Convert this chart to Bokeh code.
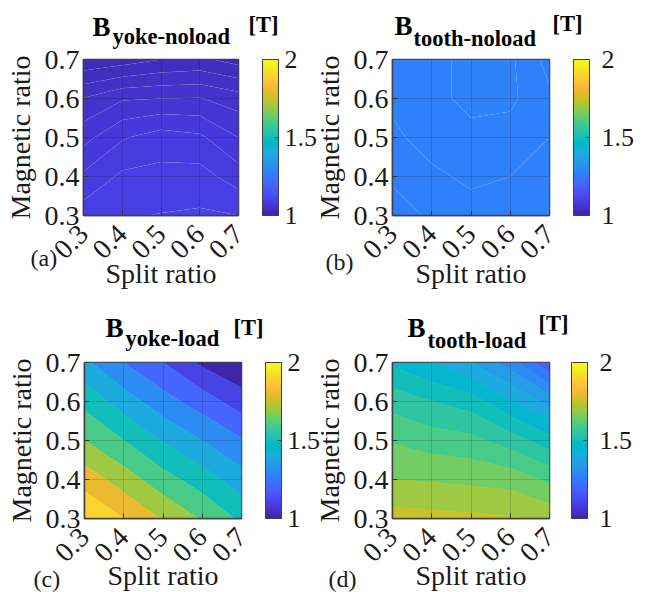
import math
import numpy as np
from bokeh.plotting import figure
from bokeh.models import Range1d, FixedTicker, ColorBar, LinearColorMapper, Label
from bokeh.layouts import column, row
from bokeh.embed import file_html
from bokeh.resources import INLINE

# ---------------- data ----------------
split_ratio = [0.3, 0.4, 0.5, 0.6, 0.7]
magnetic_ratio = [0.3, 0.4, 0.5, 0.6, 0.7]
tick_labels = ["0.3", "0.4", "0.5", "0.6", "0.7"]
cbar_ticks = [1, 1.5, 2]
cbar_labels = ["1", "1.5", "2"]

# rows: magnetic ratio 0.3 -> 0.7 ; columns: split ratio 0.3 -> 0.7   [T]
b_yoke_noload = [
    [1.095, 1.099, 1.1005, 1.1015, 1.100],
    [1.082, 1.092, 1.093, 1.094, 1.085],
    [1.0665, 1.079, 1.085, 1.082, 1.070],
    [1.0505, 1.059, 1.060, 1.0605, 1.055],
    [1.022, 1.025, 1.030, 1.032, 1.026],
]
b_tooth_noload = [
    [1.262, 1.266, 1.268, 1.268, 1.268],
    [1.266, 1.269, 1.271, 1.270, 1.269],
    [1.269, 1.272, 1.274, 1.273, 1.270],
    [1.271, 1.274, 1.276, 1.276, 1.271],
    [1.270, 1.274, 1.276, 1.276, 1.268],
]
b_yoke_load = [
    [1.99, 1.90, 1.79, 1.69, 1.58],
    [1.86, 1.75, 1.64, 1.55, 1.44],
    [1.70, 1.60, 1.49, 1.40, 1.31],
    [1.57, 1.45, 1.34, 1.25, 1.15],
    [1.42, 1.30, 1.20, 1.08, 1.005],
]
b_tooth_load = [
    [1.77, 1.765, 1.76, 1.755, 1.735],
    [1.70, 1.695, 1.688, 1.68, 1.64],
    [1.645, 1.625, 1.615, 1.575, 1.52],
    [1.58, 1.55, 1.525, 1.455, 1.38],
    [1.49, 1.45, 1.40, 1.325, 1.20],
]

levels_yoke_noload = [1.02, 1.03, 1.04, 1.05, 1.06, 1.07, 1.08, 1.09, 1.10, 1.11]
levels_tooth_noload = [1.26, 1.265, 1.27, 1.275, 1.28]
levels_yoke_load = [1.0, 1.1, 1.2, 1.3, 1.4, 1.5, 1.6, 1.7, 1.8, 1.9, 2.0]
levels_tooth_load = [1.2, 1.25, 1.3, 1.35, 1.4, 1.45, 1.5, 1.55, 1.6, 1.65, 1.7, 1.75, 1.8]

panel_subscripts = ["yoke-noload", "tooth-noload", "yoke-load", "tooth-load"]
panel_letters = ["(a)", "(b)", "(c)", "(d)"]

# ---------------- parula colormap ----------------
PARULA64 = [
    (0.2422, 0.1504, 0.6603), (0.2504, 0.1650, 0.7076), (0.2578, 0.1818, 0.7511), (0.2647, 0.1978, 0.7952),
    (0.2706, 0.2147, 0.8364), (0.2751, 0.2342, 0.8710), (0.2783, 0.2559, 0.8991), (0.2803, 0.2782, 0.9221),
    (0.2813, 0.3006, 0.9414), (0.2810, 0.3228, 0.9579), (0.2795, 0.3447, 0.9717), (0.2760, 0.3667, 0.9829),
    (0.2699, 0.3892, 0.9906), (0.2602, 0.4123, 0.9952), (0.2440, 0.4358, 0.9988), (0.2206, 0.4603, 0.9973),
    (0.1963, 0.4847, 0.9892), (0.1834, 0.5074, 0.9798), (0.1786, 0.5289, 0.9682), (0.1764, 0.5499, 0.9520),
    (0.1687, 0.5703, 0.9359), (0.1540, 0.5902, 0.9218), (0.1460, 0.6091, 0.9079), (0.1380, 0.6276, 0.8973),
    (0.1248, 0.6459, 0.8883), (0.1113, 0.6635, 0.8763), (0.0952, 0.6798, 0.8598), (0.0689, 0.6948, 0.8394),
    (0.0297, 0.7082, 0.8163), (0.0036, 0.7203, 0.7917), (0.0067, 0.7312, 0.7660), (0.0433, 0.7411, 0.7394),
    (0.0964, 0.7500, 0.7120), (0.1408, 0.7584, 0.6842), (0.1717, 0.7670, 0.6554), (0.1938, 0.7758, 0.6251),
    (0.2161, 0.7843, 0.5923), (0.2470, 0.7918, 0.5567), (0.2906, 0.7973, 0.5188), (0.3406, 0.8008, 0.4789),
    (0.3909, 0.8029, 0.4354), (0.4456, 0.8024, 0.3909), (0.5044, 0.7993, 0.3480), (0.5616, 0.7942, 0.3045),
    (0.6174, 0.7876, 0.2612), (0.6720, 0.7793, 0.2227), (0.7242, 0.7698, 0.1910), (0.7738, 0.7598, 0.1646),
    (0.8203, 0.7498, 0.1535), (0.8634, 0.7406, 0.1596), (0.9035, 0.7330, 0.1774), (0.9393, 0.7288, 0.2100),
    (0.9728, 0.7298, 0.2394), (0.9956, 0.7434, 0.2371), (0.9970, 0.7659, 0.2199), (0.9952, 0.7893, 0.2028),
    (0.9892, 0.8136, 0.1885), (0.9786, 0.8386, 0.1766), (0.9676, 0.8639, 0.1643), (0.9610, 0.8890, 0.1537),
    (0.9597, 0.9135, 0.1423), (0.9628, 0.9373, 0.1265), (0.9691, 0.9606, 0.1064), (0.9769, 0.9839, 0.0805),
]
_p = np.array(PARULA64)
_src = np.linspace(0, 1, len(_p))


def parula(t):
    t = min(max(t, 0.0), 1.0)
    r, g, b = (np.interp(t, _src, _p[:, k]) for k in range(3))
    return "#%02x%02x%02x" % (int(round(r * 255)), int(round(g * 255)), int(round(b * 255)))


PALETTE = [parula(i / 255) for i in range(256)]
CLIM = (1.0, 2.0)

FONT = "Liberation Serif"
TXT = "#1a1a1a"


def make_panel(z, levels, bl, bt, bb, br, fw, fh, cbx, cb_standoff, xlab_standoff,
               line_alpha=0.0, shift=0):
    p = figure(frame_width=fw, frame_height=fh, min_border_left=bl, min_border_top=bt,
               min_border_bottom=bb, min_border_right=br,
               x_range=Range1d(0.3, 0.7), y_range=Range1d(0.3, 0.7),
               output_backend="svg", toolbar_location=None, tools="")
    p.border_fill_alpha = 0
    if shift:
        p.margin = (0, 0, 0, shift)
    fills = [parula((lv - CLIM[0]) / (CLIM[1] - CLIM[0])) for lv in levels[:-1]]
    if line_alpha > 0:
        # faint light seams between the nearly equal bands
        p.contour(x=split_ratio, y=magnetic_ratio, z=np.array(z), levels=levels,
                  fill_color=fills, line_color="white", line_alpha=line_alpha, line_width=1)
    else:
        # boundary lines in the band colour hide anti-aliasing seams
        seam = [fills[min(i, len(fills) - 1)] for i in range(len(levels))]
        p.contour(x=split_ratio, y=magnetic_ratio, z=np.array(z), levels=levels,
                  fill_color=fills, line_color=seam, line_width=1)

    p.outline_line_color = "#404040"
    p.outline_line_width = 1.5
    for ax in (p.xaxis[0], p.yaxis[0]):
        ax.ticker = FixedTicker(ticks=split_ratio)
        ax.major_label_overrides = {v: s for v, s in zip(split_ratio, tick_labels)}
        ax.major_tick_in = 5
        ax.major_tick_out = 0
        ax.minor_tick_line_color = None
        ax.axis_line_color = "#404040"
        ax.axis_line_width = 1.5
        ax.major_tick_line_color = "#404040"
        ax.major_label_text_font = FONT
        ax.major_label_text_font_size = "28px"
        ax.major_label_text_color = TXT
        ax.axis_label_text_font = FONT
        ax.axis_label_text_font_size = "28px"
        ax.axis_label_text_font_style = "normal"
        ax.axis_label_text_color = TXT
    p.xaxis.axis_label = "Split ratio"
    p.yaxis.axis_label = "Magnetic ratio"
    p.xaxis.major_label_orientation = math.pi / 4
    p.xaxis.major_label_standoff = 14
    p.yaxis.major_label_standoff = 4
    p.xaxis.axis_label_standoff = xlab_standoff
    p.yaxis.axis_label_standoff = 6

    p.grid.grid_line_color = "#000000"
    p.grid.grid_line_alpha = 0.15
    p.grid.level = "guide"
    p.xgrid.ticker = FixedTicker(ticks=split_ratio)
    p.ygrid.ticker = FixedTicker(ticks=magnetic_ratio)

    mapper = LinearColorMapper(palette=PALETTE, low=CLIM[0], high=CLIM[1])
    cb = ColorBar(color_mapper=mapper, ticker=FixedTicker(ticks=cbar_ticks),
                  major_label_overrides={v: s for v, s in zip(cbar_ticks, cbar_labels)},
                  location=(cbx, 0), orientation="vertical", width=16, height=fh,
                  padding=0, margin=0, bar_line_color="#404040", bar_line_width=1,
                  major_tick_line_color="#404040", major_tick_in=4, major_tick_out=0,
                  minor_tick_line_color=None, label_standoff=cb_standoff,
                  major_label_text_font=FONT, major_label_text_font_size="26px",
                  major_label_text_color=TXT, background_fill_alpha=0, border_line_color=None)
    p.add_layout(cb)
    return p


pa = make_panel(b_yoke_noload, levels_yoke_noload, bl=83, bt=59, bb=88, br=82, fw=155, fh=156,
                cbx=179, cb_standoff=6, xlab_standoff=-12, line_alpha=0.05)
pb = make_panel(b_tooth_noload, levels_tooth_noload, bl=77, bt=59, bb=88, br=95, fw=157, fh=156,
                cbx=181, cb_standoff=12, xlab_standoff=-12, line_alpha=0.012, shift=-10)
pc = make_panel(b_yoke_load, levels_yoke_load, bl=84, bt=59, bb=74, br=79, fw=157, fh=156,
                cbx=181, cb_standoff=6, xlab_standoff=-13)
pd = make_panel(b_tooth_load, levels_tooth_load, bl=79, bt=59, bb=74, br=95, fw=157, fh=156,
                cbx=179, cb_standoff=12, xlab_standoff=-13, shift=-10)

grid = column(row(pa, pb), row(pc, pd))

# ---------- text layer (titles with subscripts, panel letters), page pixel space ----------
OW, OH = 641, 592
ov = figure(width=OW, height=OH, x_range=Range1d(0, OW), y_range=Range1d(OH, 0),
            x_axis_type=None, y_axis_type=None, output_backend="svg",
            toolbar_location=None, tools="", min_border=0)
ov.outline_line_color = None
ov.background_fill_alpha = 0
ov.border_fill_alpha = 0
grid.margin = (-OH, 0, 0, 0)

# page positions (x of left edge, y of baseline) for: "B", subscript, "[T]", letter
title_layout = [
    ((92, 26), (112, 36), (248, 24), (30, 257)),
    ((394, 25), (413, 38), (552, 23), (325, 261)),
    ((105, 327), (125, 338), (233, 327), (33, 578)),
    ((407, 327), (427, 340), (538, 323), (328, 578)),
]
for sub, letter, (bpos, spos, tpos, lpos) in zip(panel_subscripts, panel_letters, title_layout):
    for txt, (x, y), size, style in (("B", bpos, "27px", "bold"), (sub, spos, "22.5px", "bold"),
                                     ("[T]", tpos, "22.5px", "bold"), (letter, lpos, "24px", "normal")):
        ov.add_layout(Label(x=x, y=y, text=txt, text_font=FONT, text_font_size=size,
                            text_font_style=style, text_color="black" if style == "bold" else TXT,
                            text_baseline="alphabetic", text_align="left"))

layout = column(ov, grid)
open("out.html", "w").write(file_html(layout, INLINE))
